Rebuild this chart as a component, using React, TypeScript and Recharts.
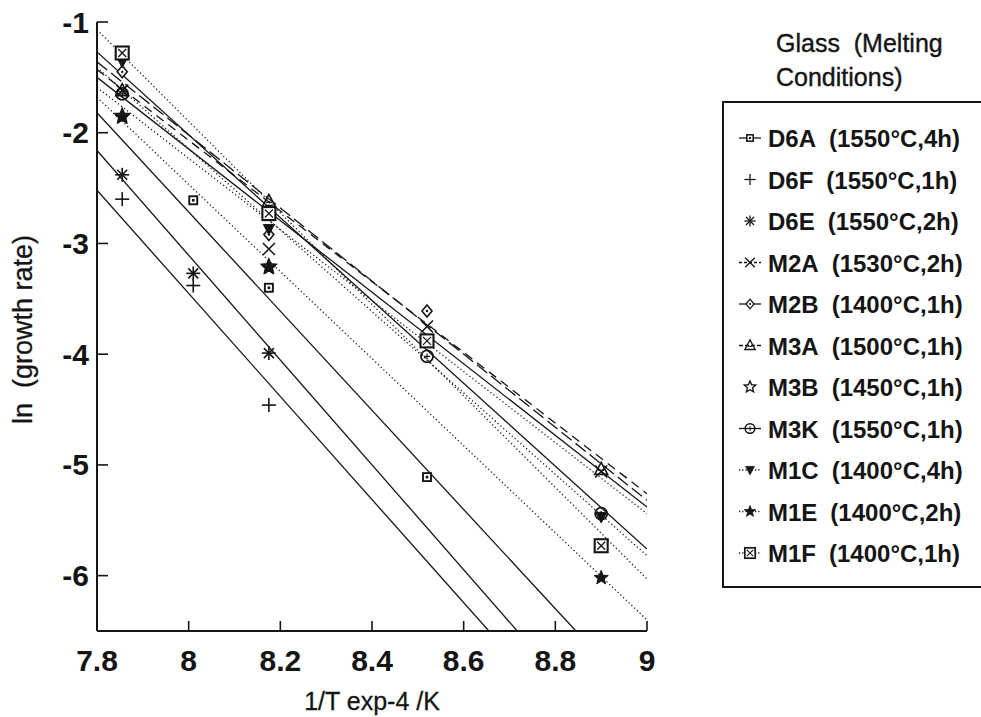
import React from 'react';
import { ScatterChart, Scatter, XAxis, YAxis } from 'recharts';

// ---------- data ----------
const xTicks = [7.8, 8, 8.2, 8.4, 8.6, 8.8, 9];
const yTicks = [-1, -2, -3, -4, -5, -6];

const glassNames = ['D6A', 'D6F', 'D6E', 'M2A', 'M2B', 'M3A', 'M3B', 'M3K', 'M1C', 'M1E', 'M1F'];
const meltingConditions = [
  '(1550°C,4h)', '(1550°C,1h)', '(1550°C,2h)', '(1530°C,2h)', '(1400°C,1h)', '(1500°C,1h)',
  '(1450°C,1h)', '(1550°C,1h)', '(1400°C,4h)', '(1400°C,2h)', '(1400°C,1h)',
];

const d6aPoints = [{ x: 8.01, y: -2.61 }, { x: 8.175, y: -3.4 }, { x: 8.52, y: -5.11 }];
const d6fPoints = [{ x: 7.855, y: -2.6 }, { x: 8.01, y: -3.38 }, { x: 8.175, y: -4.46 }];
const d6ePoints = [{ x: 7.855, y: -2.38 }, { x: 8.01, y: -3.27 }, { x: 8.175, y: -3.99 }];
const m2aPoints = [{ x: 7.855, y: -1.62 }, { x: 8.175, y: -3.05 }, { x: 8.52, y: -3.75 }, { x: 8.9, y: -5.06 }];
const m2bPoints = [{ x: 7.855, y: -1.45 }, { x: 8.175, y: -2.92 }, { x: 8.52, y: -3.61 }];
const m3aPoints = [{ x: 7.855, y: -1.62 }, { x: 8.175, y: -2.62 }, { x: 8.9, y: -5.04 }];
const m3bPoints = [{ x: 7.855, y: -1.85 }, { x: 8.175, y: -3.21 }];
const m3kPoints = [{ x: 7.855, y: -1.65 }, { x: 8.175, y: -2.71 }, { x: 8.52, y: -4.02 }, { x: 8.9, y: -5.44 }];
const m1cPoints = [{ x: 7.855, y: -1.36 }, { x: 8.175, y: -2.87 }, { x: 8.9, y: -5.47 }];
const m1ePoints = [{ x: 7.855, y: -1.86 }, { x: 8.175, y: -3.22 }, { x: 8.9, y: -6.02 }];
const m1fPoints = [{ x: 7.855, y: -1.28 }, { x: 8.175, y: -2.73 }, { x: 8.52, y: -3.88 }, { x: 8.9, y: -5.73 }];

// fitted straight lines (end points)
const d6aFit = [{ x: 7.8, y: -1.82 }, { x: 8.845, y: -6.5 }];
const d6fFit = [{ x: 7.8, y: -2.52 }, { x: 8.655, y: -6.5 }];
const d6eFit = [{ x: 7.8, y: -2.16 }, { x: 8.717, y: -6.5 }];
const m2aFit = [{ x: 7.8, y: -1.5 }, { x: 9, y: -5.38 }];
const m2bFit = [{ x: 7.8, y: -1.43 }, { x: 9, y: -5.26 }];
const m3aFit = [{ x: 7.8, y: -1.36 }, { x: 9, y: -5.32 }];
const m3bFit = [{ x: 7.8, y: -1.59 }, { x: 9, y: -5.44 }];
const m3kFit = [{ x: 7.8, y: -1.27 }, { x: 9, y: -5.76 }];
const m1cFit = [{ x: 7.8, y: -1.41 }, { x: 9, y: -5.82 }];
const m1eFit = [{ x: 7.8, y: -1.68 }, { x: 9, y: -6.4 }];
const m1fFit = [{ x: 7.8, y: -1.07 }, { x: 9, y: -6.03 }];

const pointSets = [d6aPoints, d6fPoints, d6ePoints, m2aPoints, m2bPoints, m3aPoints, m3bPoints, m3kPoints, m1cPoints, m1ePoints, m1fPoints];
const fitSets = [d6aFit, d6fFit, d6eFit, m2aFit, m2bFit, m3aFit, m3bFit, m3kFit, m1cFit, m1eFit, m1fFit];

// ---------- styles ----------
const INK = '#151515';
const FONT = '"Liberation Sans", Arial, Helvetica, sans-serif';
const markerKinds = ['sqdot', 'plus', 'aster', 'cross', 'diamond', 'tri', 'staropen', 'circ', 'tridown', 'star', 'sqx'];
const lineDashes = ['', '', '', '', '9 6', '13 5', '1.2 2.6', '', '1.2 2.6', '1.2 2.6', '1.2 2.6'];
const legendLine = [true, false, false, true, true, true, false, true, true, true, true];
const legendDash = ['', '', '', '3 2', '', '4 2', '', '', '1.2 2', '1.2 2', '1.2 2'];

function starPath(cx: number, cy: number, ro: number, ri: number) {
  let d = '';
  for (let i = 0; i < 10; i++) {
    const r = i % 2 === 0 ? ro : ri;
    const a = -Math.PI / 2 + (i * Math.PI) / 5;
    d += (i === 0 ? 'M' : 'L') + (cx + r * Math.cos(a)).toFixed(2) + ',' + (cy + r * Math.sin(a)).toFixed(2);
  }
  return d + 'Z';
}

function Glyph({ kind, cx, cy }: { kind: string; cx?: number; cy?: number }) {
  if (cx == null || cy == null || isNaN(cx) || isNaN(cy)) return <g />;
  const s = { stroke: INK, strokeWidth: 1.6, fill: 'none' };
  switch (kind) {
    case 'sqdot':
      return (
        <g>
          <rect x={cx - 4} y={cy - 4} width={8} height={8} fill="#fff" stroke={INK} strokeWidth={1.9} />
          <rect x={cx - 1.3} y={cy - 1.3} width={2.6} height={2.6} fill={INK} />
        </g>
      );
    case 'plus':
      return (
        <g {...s}>
          <line x1={cx - 7} x2={cx + 7} y1={cy} y2={cy} />
          <line x1={cx} x2={cx} y1={cy - 7} y2={cy + 7} />
        </g>
      );
    case 'aster':
      return (
        <g {...s}>
          <line x1={cx - 7} x2={cx + 7} y1={cy} y2={cy} />
          <line x1={cx} x2={cx} y1={cy - 7} y2={cy + 7} />
          <line x1={cx - 5} x2={cx + 5} y1={cy - 5} y2={cy + 5} />
          <line x1={cx - 5} x2={cx + 5} y1={cy + 5} y2={cy - 5} />
        </g>
      );
    case 'cross':
      return (
        <g {...s}>
          <line x1={cx - 6} x2={cx + 6} y1={cy - 6} y2={cy + 6} />
          <line x1={cx - 6} x2={cx + 6} y1={cy + 6} y2={cy - 6} />
        </g>
      );
    case 'diamond':
      return (
        <g>
          <path d={`M${cx},${cy - 6}L${cx + 5},${cy}L${cx},${cy + 6}L${cx - 5},${cy}Z`} fill="#fff" stroke={INK} strokeWidth={1.6} />
          <circle cx={cx} cy={cy} r={1.2} fill={INK} />
        </g>
      );
    case 'tri':
      return (
        <g>
          <path d={`M${cx},${cy - 7}L${cx + 6.5},${cy + 5}L${cx - 6.5},${cy + 5}Z`} fill="none" stroke={INK} strokeWidth={1.6} />
          <line x1={cx - 3} x2={cx + 3} y1={cy + 1} y2={cy + 1} stroke={INK} strokeWidth={1.2} />
        </g>
      );
    case 'staropen':
      return <path d={starPath(cx, cy, 7.5, 3.4)} fill="none" stroke={INK} strokeWidth={1.7} />;
    case 'circ':
      return (
        <g>
          <circle cx={cx} cy={cy} r={6} fill="none" stroke={INK} strokeWidth={1.8} />
          <line x1={cx - 3} x2={cx + 3} y1={cy} y2={cy} stroke={INK} strokeWidth={1.2} />
          <line x1={cx} x2={cx} y1={cy - 3} y2={cy + 3} stroke={INK} strokeWidth={1.2} />
        </g>
      );
    case 'tridown':
      return <path d={`M${cx - 5.5},${cy - 4.5}L${cx + 5.5},${cy - 4.5}L${cx},${cy + 6}Z`} fill={INK} stroke={INK} strokeWidth={1} />;
    case 'star':
      return <path d={starPath(cx, cy, 7.5, 3.2)} fill={INK} stroke={INK} strokeWidth={1} />;
    case 'sqx':
      return (
        <g>
          <rect x={cx - 6.5} y={cy - 6.5} width={13} height={13} fill="#fff" stroke={INK} strokeWidth={2.1} />
          <line x1={cx - 4} x2={cx + 4} y1={cy - 4} y2={cy + 4} stroke={INK} strokeWidth={1.3} />
          <line x1={cx - 4} x2={cx + 4} y1={cy + 4} y2={cy - 4} stroke={INK} strokeWidth={1.3} />
        </g>
      );
    default:
      return <g />;
  }
}

const noShape = () => <g />;

const XTick = (p: any) => {
  const axisY = p.y;
  return (
    <g>
      <line x1={p.x} x2={p.x} y1={axisY} y2={axisY - 10} stroke={INK} strokeWidth={1.6} />
      <text x={p.x} y={axisY + 29} textAnchor="middle" dominantBaseline="central" fontFamily={FONT} fontWeight={700} fontSize={30} fill={INK}>
        {p.payload.value}
      </text>
    </g>
  );
};

const YTick = (p: any) => {
  const axisX = p.x + 8;
  return (
    <g>
      <line x1={axisX} x2={axisX + 11} y1={p.y} y2={p.y} stroke={INK} strokeWidth={1.6} />
      <text x={p.x} y={p.y} textAnchor="end" dominantBaseline="central" fontFamily={FONT} fontWeight={700} fontSize={30} fill={INK}>
        {p.payload.value}
      </text>
    </g>
  );
};

const XTitle = (p: any) => {
  const vb = p.viewBox || {};
  return (
    <text x={vb.x + vb.width / 2} y={vb.y + 70} textAnchor="middle" dominantBaseline="central" fontFamily={FONT} fontSize={25} fill={INK} stroke={INK} strokeWidth={0.3}>
      1/T exp-4 /K
    </text>
  );
};

const YTitle = (p: any) => {
  const vb = p.viewBox || {};
  const cx = 23;
  const cy = vb.y + vb.height / 2 + 3;
  return (
    <text x={cx} y={cy} transform={`rotate(-90 ${cx} ${cy})`} textAnchor="middle" dominantBaseline="central" fontFamily={FONT} fontSize={27} fill={INK} stroke={INK} strokeWidth={0.3} style={{ whiteSpace: 'pre' }}>
      {'ln  (growth rate)'}
    </text>
  );
};

function LegendPanel() {
  return (
    <svg width={981} height={717} style={{ position: 'absolute', left: 0, top: 0, pointerEvents: 'none' }}>
      <text x={776} y={43} dominantBaseline="central" fontFamily={FONT} fontSize={25} fill={INK} stroke={INK} strokeWidth={0.4} style={{ whiteSpace: 'pre' }}>
        {'Glass  (Melting'}
      </text>
      <text x={776} y={77} dominantBaseline="central" fontFamily={FONT} fontSize={25} fill={INK} stroke={INK} strokeWidth={0.4}>
        Conditions)
      </text>
      <path d="M1100,102 L723,102 L723,587 L1100,587" fill="none" stroke={INK} strokeWidth={2} />
      {glassNames.map((name, i) => {
        const y = 138 + i * 41.5;
        return (
          <g key={name}>
            {legendLine[i] && (
              <line x1={739} x2={761} y1={y} y2={y} stroke={INK} strokeWidth={1.3} strokeDasharray={legendDash[i] || undefined} />
            )}
            <g transform={`translate(${750} ${y}) scale(0.8) translate(${-750} ${-y})`}>
              <Glyph kind={markerKinds[i]} cx={750} cy={y} />
            </g>
            <text x={768} y={y} dominantBaseline="central" fontFamily={FONT} fontWeight={700} fontSize={24} fill={INK}>
              <tspan>{name}</tspan>
              <tspan dx={13}>{meltingConditions[i]}</tspan>
            </text>
          </g>
        );
      })}
    </svg>
  );
}

export default function App() {
  return (
    <div style={{ position: 'absolute', left: 0, top: 0, width: 981, height: 717, background: '#fff', overflow: 'hidden' }}>
      <ScatterChart width={700} height={717} margin={{ top: 22, right: 53, bottom: 0, left: 0 }}>
        <XAxis
          dataKey="x"
          type="number"
          domain={[7.8, 9]}
          ticks={xTicks}
          allowDataOverflow
          height={86}
          tickSize={0}
          tickMargin={0}
          tickLine={false}
          tick={<XTick />}
          axisLine={{ stroke: INK, strokeWidth: 2 }}
          interval={0}
          label={<XTitle />}
        />
        <XAxis xAxisId="top" orientation="top" type="number" domain={[7.8, 9]} height={0} tick={false} tickLine={false} axisLine={{ stroke: INK, strokeWidth: 2 }} />
        <YAxis
          dataKey="y"
          type="number"
          domain={[-6.5, -1]}
          ticks={yTicks}
          allowDataOverflow
          width={97}
          tickSize={0}
          tickMargin={8}
          tickLine={false}
          tick={<YTick />}
          axisLine={{ stroke: INK, strokeWidth: 2 }}
          interval={0}
          label={<YTitle />}
        />
        <YAxis yAxisId="right" orientation="right" type="number" domain={[-6.5, -1]} width={0} tick={false} tickLine={false} axisLine={{ stroke: INK, strokeWidth: 2 }} />
        {fitSets.map((fit, i) => (
          <Scatter
            key={'fit-' + i}
            name={glassNames[i] + ' fit'}
            data={fit}
            line={{ stroke: INK, strokeWidth: 1.3, strokeDasharray: lineDashes[i] || undefined }}
            lineType="joint"
            shape={noShape}
            legendType="none"
            isAnimationActive={false}
          />
        ))}
        {pointSets.map((pts, i) => (
          <Scatter
            key={'pts-' + i}
            name={glassNames[i]}
            data={pts}
            shape={(p: any) => <Glyph kind={markerKinds[i]} cx={p.cx} cy={p.cy} />}
            isAnimationActive={false}
          />
        ))}
      </ScatterChart>
      <LegendPanel />
    </div>
  );
}
